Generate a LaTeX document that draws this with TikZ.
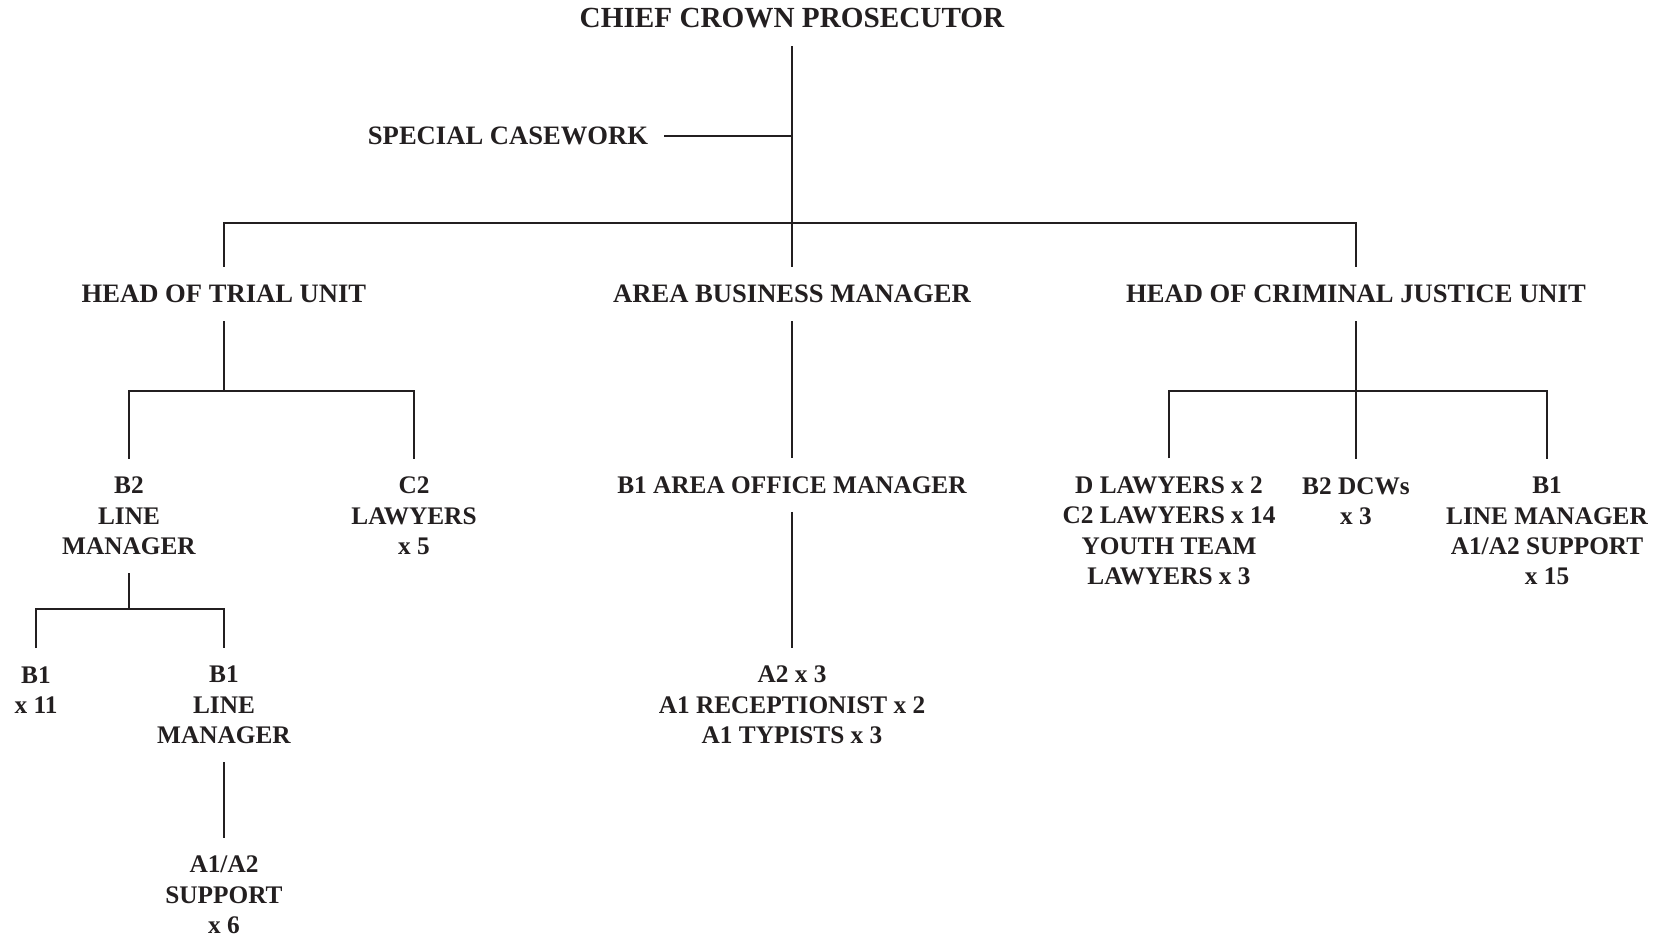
\documentclass[tikz,border=0pt]{standalone}
\usepackage{fontspec}
\setmainfont{Liberation Serif}
\definecolor{ink}{HTML}{231F20}
\tikzset{
  lbl/.style={font=\fontsize{13.3pt}{15.2pt}\selectfont\bfseries, align=center, inner xsep=2pt, inner ysep=9pt, text=ink},
  sml/.style={lbl, font=\fontsize{12.65pt}{15.2pt}\selectfont\bfseries},
  ttl/.style={lbl, font=\fontsize{14.6pt}{16.5pt}\selectfont\bfseries},
  conn/.style={draw=ink, line width=1.25pt}
}
\begin{document}
\begin{tikzpicture}[x=0.5pt, y=-0.5pt]
\useasboundingbox (0,0) rectangle (1660,938);
% nodes
\node[ttl] (ccp) at (792,18) {CHIEF CROWN PROSECUTOR};
\node[lbl, inner xsep=8pt] (sc) at (508,136) {SPECIAL CASEWORK};
\node[lbl] (htu) at (224,294) {HEAD OF TRIAL UNIT};
\node[lbl] (abm) at (792,294) {AREA BUSINESS MANAGER};
\node[lbl] (hcj) at (1356,294) {HEAD OF CRIMINAL JUSTICE UNIT};
\node[sml] (b2lm) at (129,516) {B2\\LINE\\MANAGER};
\node[sml] (c2) at (414,516) {C2\\LAWYERS\\x 5};
\node[sml] (b1x) at (36,690) {B1\\x 11};
\node[sml] (b1lm) at (224,705) {B1\\LINE\\MANAGER};
\node[sml] (sup6) at (224,895) {A1/A2\\SUPPORT\\x 6};
\node[sml] (aom) at (792,485) {B1 AREA OFFICE MANAGER};
\node[sml] (a2) at (792,705) {A2 x 3\\A1 RECEPTIONIST x 2\\A1 TYPISTS x 3};
\node[sml] (dlaw) at (1169,531) {D LAWYERS x 2\\C2 LAWYERS x 14\\YOUTH TEAM\\LAWYERS x 3};
\node[sml] (dcw) at (1356,501) {B2 DCWs\\x 3};
\node[sml] (b1cj) at (1547,531) {B1\\LINE MANAGER\\A1/A2 SUPPORT\\x 15};
% junctions
\coordinate (j0) at (792,223);
\coordinate (j1) at (224,391);
\coordinate (j2) at (129,609);
\coordinate (j3) at (1356,391);
% connectors
\draw[conn] (ccp.south) -- (j0);
\draw[conn] (sc.east) -- (sc.east -| j0);
\draw[conn] (htu.north) |- (j0) -| (hcj.north);
\draw[conn] (j0) -- (abm.north);
\draw[conn] (htu.south) -- (j1);
\draw[conn] (b2lm.north) |- (j1) -| (c2.north);
\draw[conn] (b2lm.south) -- (j2);
\draw[conn] (b1x.north) |- (j2) -| (b1lm.north);
\draw[conn] (b1lm.south) -- (sup6.north);
\draw[conn] (abm.south) -- (aom.north);
\draw[conn] (aom.south) -- (a2.north);
\draw[conn] (hcj.south) -- (j3);
\draw[conn] (dlaw.north) |- (j3) -| (b1cj.north);
\draw[conn] (j3) -- (dcw.north);
\end{tikzpicture}
\end{document}
